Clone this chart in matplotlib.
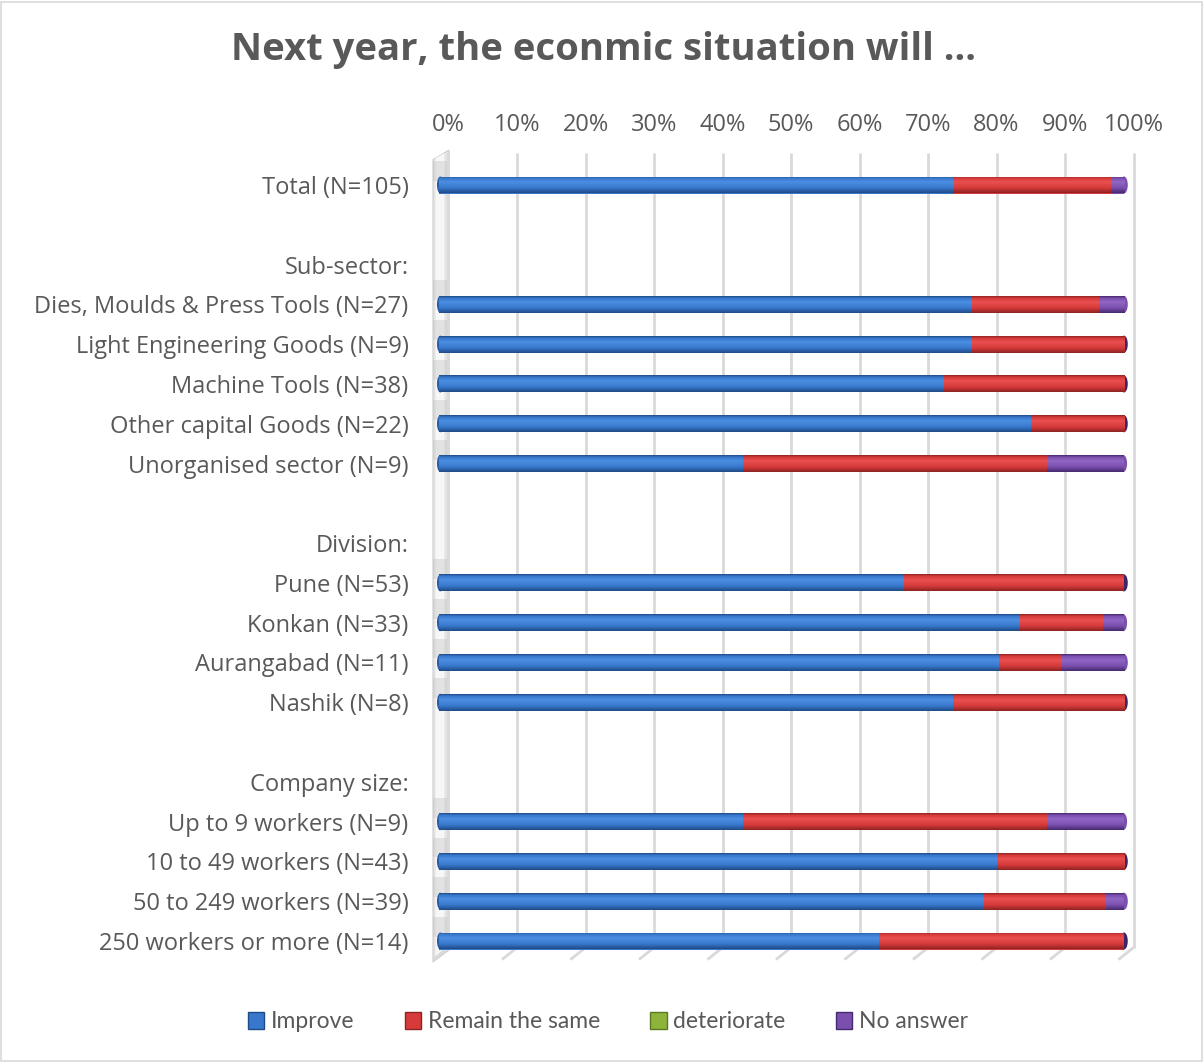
import numpy as np
import matplotlib
matplotlib.use("Agg")
import matplotlib.pyplot as plt
from matplotlib.patches import Patch, Polygon, Ellipse, Rectangle
from matplotlib import transforms as mtransforms
from matplotlib.colors import LinearSegmentedColormap

# ---- data (percent of respondents per row; None = heading / spacer row) ----
categories = [
    "Total (N=105)", "", "Sub-sector:",
    "Dies, Moulds & Press Tools (N=27)", "Light Engineering Goods (N=9)",
    "Machine Tools (N=38)", "Other capital Goods (N=22)",
    "Unorganised sector (N=9)", "", "Division:",
    "Pune (N=53)", "Konkan (N=33)", "Aurangabad (N=11)", "Nashik (N=8)",
    "", "Company size:",
    "Up to 9 workers (N=9)", "10 to 49 workers (N=43)",
    "50 to 249 workers (N=39)", "250 workers or more (N=14)",
]
improve = [75.2, None, None, 77.8, 77.8, 73.7, 86.4, 44.4, None, None,
           67.9, 84.8, 81.8, 75.0, None, None, 44.4, 81.4, 79.5, 64.3]
remain_same = [22.9, None, None, 18.5, 22.2, 26.3, 13.6, 44.4, None, None,
               32.1, 12.1, 9.1, 25.0, None, None, 44.4, 18.6, 17.9, 35.7]
deteriorate = [0.0, None, None, 0.0, 0.0, 0.0, 0.0, 0.0, None, None,
               0.0, 0.0, 0.0, 0.0, None, None, 0.0, 0.0, 0.0, 0.0]
no_answer = [1.9, None, None, 3.7, 0.0, 0.0, 0.0, 11.1, None, None,
             0.0, 3.0, 9.1, 0.0, None, None, 11.1, 0.0, 2.6, 0.0]
series_names = ["Improve", "Remain the same", "deteriorate", "No answer"]
tick_values = [0, 10, 20, 30, 40, 50, 60, 70, 80, 90, 100]

# ---- styling ----
GREY_TEXT = "#595959"
# (dark edge, body, highlight) per series for the cylinder shading
shades = [
    ("#1f4a86", "#3878cc", "#4b8fe2"),
    ("#8e2323", "#d63a3a", "#ea5050"),
    ("#5a7a20", "#8db33a", "#a3cc4e"),
    ("#45296e", "#7b4fae", "#9066c4"),
]
W, H = 1204, 1062
fig = plt.figure(figsize=(W / 100, H / 100), dpi=100)
fig.patch.set_facecolor("white")

# chart border
fig.add_artist(Rectangle((1 / W, 1 / H), 1 - 3 / W, 1 - 3 / H, transform=fig.transFigure,
                         fill=False, edgecolor="#d9d9d9", linewidth=1.2))

# plot area in pixels
left_px, right_px, top_px, bottom_px = 439, 1124, 150, 950
ax = fig.add_axes([left_px / W, 1 - bottom_px / H, (right_px - left_px) / W,
                   (bottom_px - top_px) / H])
ax.set_facecolor("none")
for s in ax.spines.values():
    s.set_visible(False)

n = len(categories)
rows = np.arange(n)
row_px = (941 - 185) / (n - 1)
ylim = (19 + (bottom_px - 941) / row_px, 0 - (185 - top_px) / row_px)
xlim = (0, 100)

# 3D depth offset of the back wall / gridlines
depth = mtransforms.ScaledTranslation(9.5 / 100, 0, fig.dpi_scale_trans)
blend = mtransforms.blended_transform_factory(ax.transData, ax.transAxes)

# gridlines with perspective feet
for t in tick_values:
    ax.plot([t, t], [0.003, 0.996], transform=blend + depth, color="#d9d9d9",
            lw=2.0, zorder=1, clip_on=False, solid_capstyle="butt")
    ax.plot([t, t - 2.2], [0.003, -0.012], transform=blend + depth, color="#d9d9d9",
            lw=2.0, zorder=1, clip_on=False, solid_capstyle="butt")
    ax.text(t, 1.0, f"{t}%", transform=blend + depth +
            mtransforms.ScaledTranslation(0, 0.25, fig.dpi_scale_trans),
            ha="center", va="center", fontsize=17, color=GREY_TEXT,
            family="Open Sans")

# side wall
wall = Polygon([(-0.0088, 0.988), (0.0146, 1.0), (0.0146, 0.0), (-0.0088, -0.015)],
               closed=True, transform=ax.transAxes, facecolor="#e4e4e4",
               edgecolor="#cfcfcf", lw=0.8, zorder=0.5, clip_on=False)
ax.add_patch(wall)
ax.add_patch(Polygon([(-0.005, 0.99), (0.008, 0.996), (0.008, 0.004), (-0.005, -0.01)],
                     closed=True, transform=ax.transAxes, facecolor="#f7f7f7",
                     edgecolor="none", zorder=0.6, clip_on=False))

# stacked cylinder bars
bar_h = 17 / row_px
prof = np.linspace(0, 1, 64)
bar_rows = [i for i in rows if improve[i] is not None]
values = [improve, remain_same, deteriorate, no_answer]
left = np.zeros(len(bar_rows))
for k, vals in enumerate(values):
    widths = np.array([vals[i] for i in bar_rows], dtype=float)
    dark, body, light = shades[k]
    cmap = LinearSegmentedColormap.from_list(
        f"cyl{k}", [(0.0, dark), (0.12, body), (0.35, light), (0.7, body), (1.0, dark)])
    bars = ax.barh(bar_rows, widths, left=left, height=bar_h, color=body,
                   edgecolor="none", zorder=3)
    for p in bars:
        if p.get_width() <= 0:
            continue
        x0, y0, w, h = p.get_x(), p.get_y(), p.get_width(), p.get_height()
        im = ax.imshow(prof[:, None], extent=(x0, x0 + w, y0 + h, y0), aspect="auto",
                       cmap=cmap, origin="upper", zorder=3.5, interpolation="bilinear")
        im.set_clip_path(p)
    left = left + widths

# soft shadow on the wall just above each bar
wall_shadow = mtransforms.blended_transform_factory(ax.transAxes, ax.transData)
for r in bar_rows:
    ax.add_patch(Rectangle((-0.0088, r - 0.6), 0.0234, 0.5, transform=wall_shadow,
                           facecolor="#bdbdbd", alpha=0.35, edgecolor="none",
                           zorder=0.7, clip_on=False))

# end caps of the cylinders
for r, tot, na in zip(bar_rows, left, [no_answer[i] for i in bar_rows]):
    cap = "#7b4fae" if na > 0 else "#3e2566"
    ax.add_patch(Ellipse((tot, r), 1.1, bar_h, facecolor=cap, edgecolor="none",
                         zorder=3.4, clip_on=False))
    ax.add_patch(Ellipse((0.2, r), 1.0, bar_h, facecolor="#2a5ea8", edgecolor="none",
                         zorder=3.4, clip_on=False))

ax.set_xlim(*xlim)
ax.set_ylim(*ylim)
ax.set_xticks([])
ax.set_yticks(rows)
ax.set_yticklabels(categories, fontsize=17, color=GREY_TEXT, family="Open Sans")
ax.tick_params(axis="y", length=0, pad=22)

# title
fig.text(603.5 / W, 1 - 50 / H, "Next year, the econmic situation will ...",
         ha="center", va="center", fontsize=27.5, fontweight="bold",
         color=GREY_TEXT, family="Open Sans")

# legend
handles = [Patch(facecolor=shades[k][1], edgecolor=shades[k][0], lw=1.0)
           for k in range(4)]
fig.legend(handles, series_names, loc="center", bbox_to_anchor=(608 / W, 1 - 1022 / H),
           ncol=4, frameon=False, handlelength=0.7, handleheight=0.7,
           handletextpad=0.3, columnspacing=2.2,
           prop={"family": "Lato", "size": 16.5}, labelcolor=GREY_TEXT)

fig.savefig("out.png", dpi=100, facecolor="white")
